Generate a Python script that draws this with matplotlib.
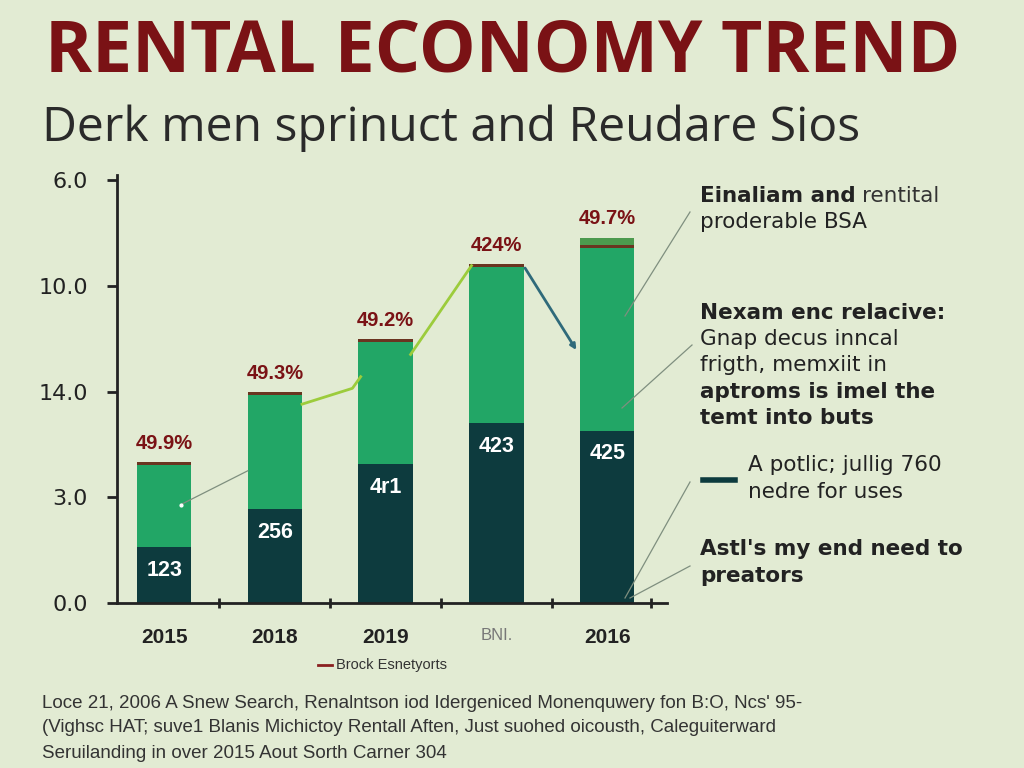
import numpy as np
import matplotlib
matplotlib.use("Agg")
import matplotlib.pyplot as plt

# chart data
years = ["2015", "2018", "2019", "BNI.", "2016"]
dark_vals = [0.53, 0.89, 1.31, 1.70, 1.63]
green_vals = [0.79, 1.09, 1.17, 1.49, 1.74]
cap_vals = [0.0, 0.0, 0.0, 0.0, 0.08]
dark_labels = ["123", "256", "4r1", "423", "425"]
pct_labels = ["49.9%", "49.3%", "49.2%", "424%", "49.7%"]
ytick_pos = [0, 1, 2, 3, 4]
ytick_labels = ["0.0", "3.0", "14.0", "10.0", "6.0"]

BG = "#e2ebd3"
DARK = "#0d3b3e"
GREEN = "#22a666"
CAP = "#4c9a4e"
RED = "#7a1215"
BROWN = "#6a3420"
NOTE_FONT = "DejaVu Sans"
NOTE_SIZE = 15.5

fig = plt.figure(figsize=(10.24, 7.68), dpi=100, facecolor=BG)
ax = fig.add_axes([117 / 1024, 1 - 603 / 768, (667 - 117) / 1024, 423 / 768])
ax.set_facecolor(BG)

x = np.arange(len(years))
w = 0.49
dark = np.array(dark_vals)
green = np.array(green_vals)
cap = np.array(cap_vals)
total = dark + green

ax.bar(x, dark, w, color=DARK, zorder=2)
ax.bar(x, green, w, bottom=dark, color=GREEN, zorder=2)
ax.bar(x, cap, w, bottom=total, color=CAP, zorder=2)
# thin brown line on top of each green segment
ax.bar(x, 0.025, w, bottom=total - 0.012, color=BROWN, zorder=3)

for i in range(len(years)):
    top = total[i] + cap[i]
    ax.text(x[i], top + 0.1, pct_labels[i], ha="center", va="bottom",
            fontsize=14.5, fontweight="bold", color=RED, family="Liberation Sans")
    ax.text(x[i], dark[i] - 0.22, dark_labels[i], ha="center", va="center",
            fontsize=15.5, fontweight="bold", color="white", family="Liberation Sans")

# connector lines between bars
ax.plot([x[1] + w / 2, x[1] + 0.7, x[2] - w / 2 + 0.02],
        [total[1] - 0.1, total[1] + 0.05, total[1] + 0.16],
        color="#9ccc3c", lw=2, zorder=4)
ax.plot([x[2] + w / 2 - 0.02, x[3] - w / 2 + 0.02],
        [total[2] - 0.13, total[3]], color="#9ccc3c", lw=2, zorder=4)
ax.annotate("", xy=(x[4] - w / 2 - 0.02, total[4] - 1.0),
            xytext=(x[3] + w / 2, total[3]),
            arrowprops=dict(arrowstyle="-|>", color="#2f6a7a", lw=2,
                            mutation_scale=8), zorder=4)

# thin leader line inside the 2015 bar
ax.plot([x[0] + 0.15, x[1] - w / 2], [dark[0] + 0.4, dark[0] + 0.72],
        color="#7f8f7f", lw=0.9, zorder=4)
ax.plot([x[0] + 0.15], [dark[0] + 0.4], "o", ms=2, color="white", zorder=5)

ax.set_xlim(-0.425, 4.54)
ax.set_ylim(0, 4)
ax.set_yticks(ytick_pos)
ax.set_yticklabels(ytick_labels, fontsize=16, color="#222222")
ax.set_xticks(x)
ax.set_xticklabels(years, fontsize=15, fontweight="bold", color="#222222",
                   family="Liberation Sans")
ax.get_xticklabels()[3].set_fontweight("normal")
ax.get_xticklabels()[3].set_color("#777777")
ax.get_xticklabels()[3].set_fontsize(12)
ax.tick_params(axis="x", length=0, pad=18)
ax.tick_params(axis="y", length=7, width=2, color="#222222", pad=14)
ax.set_xticks([0.5, 1.5, 2.5, 3.5, 4.4], minor=True)
ax.tick_params(axis="x", which="minor", length=7, width=2, direction="inout",
               color="#222222")
for s in ["top", "right"]:
    ax.spines[s].set_visible(False)
for s in ["left", "bottom"]:
    ax.spines[s].set_linewidth(2)
    ax.spines[s].set_color("#222222")
ax.spines["left"].set_bounds(0, 4.05)

# title & subtitle
fig.text(45 / 1024, 1 - 52 / 768, "RENTAL ECONOMY TREND", fontsize=51.5,
         fontweight="bold", color=RED, va="center", family="Open Sans")
fig.text(42 / 1024, 1 - 128 / 768, "Derk men sprinuct and Reudare Sios",
         fontsize=34.7, color="#2a2a2a", va="center", family="Open Sans")

# right annotations
tx = 700 / 1024
def line(yp, s, bold=False, xx=tx):
    return fig.text(xx, 1 - yp / 768, s, fontsize=NOTE_SIZE, va="center",
                    fontweight="bold" if bold else "normal", color="#222222",
                    family=NOTE_FONT)

first = line(196, "Einaliam and", True)
fig.canvas.draw()
bb = first.get_window_extent(fig.canvas.get_renderer())
fig.text(bb.x1 / 1024 + 6 / 1024, 1 - 196 / 768, "rentital", fontsize=NOTE_SIZE,
         va="center", color="#333333", family=NOTE_FONT)
line(222, "proderable BSA")
line(313, "Nexam enc relacive:", True)
line(339, "Gnap decus inncal")
line(365, "frigth, memxiit in")
line(392, "aptroms is imel the", True)
line(418, "temt into buts", True)
line(465, "A potlic; jullig 760", xx=748 / 1024)
line(492, "nedre for uses", xx=748 / 1024)
line(549, "Astl's my end need to", True)
line(576, "preators", True)
fig.add_artist(plt.Line2D([703 / 1024, 735 / 1024], [1 - 480 / 768] * 2,
                          color=DARK, lw=4))

# leader lines from the 2016 bar to the notes
for (x0, y0, x1, y1) in [(625, 316, 690, 212), (622, 408, 692, 345),
                         (625, 598, 690, 482), (630, 598, 690, 566)]:
    fig.add_artist(plt.Line2D([x0 / 1024, x1 / 1024], [1 - y0 / 768, 1 - y1 / 768],
                              color="#7f8f7f", lw=0.9))

# legend
fig.add_artist(plt.Line2D([318 / 1024, 332 / 1024], [1 - 665 / 768] * 2,
                          color="#8a2020", lw=2))
fig.text(336 / 1024, 1 - 665 / 768, "Brock Esnetyorts", fontsize=10.5,
         va="center", color="#333333", family="Liberation Sans")

# footnote
foot = ["Loce 21, 2006 A Snew Search, Renalntson iod Idergeniced Monenquwery fon B:O, Ncs' 95-",
        "(Vighsc HAT; suve1 Blanis Michictoy Rentall Aften, Just suohed oicousth, Caleguiterward",
        "Seruilanding in over 2015 Aout Sorth Carner 304"]
for i, s in enumerate(foot):
    fig.text(42 / 1024, 1 - (703 + 25 * i) / 768, s, fontsize=13.5, va="center",
             color="#333333", family="Liberation Sans")

fig.savefig("out.png", dpi=100, facecolor=BG)
